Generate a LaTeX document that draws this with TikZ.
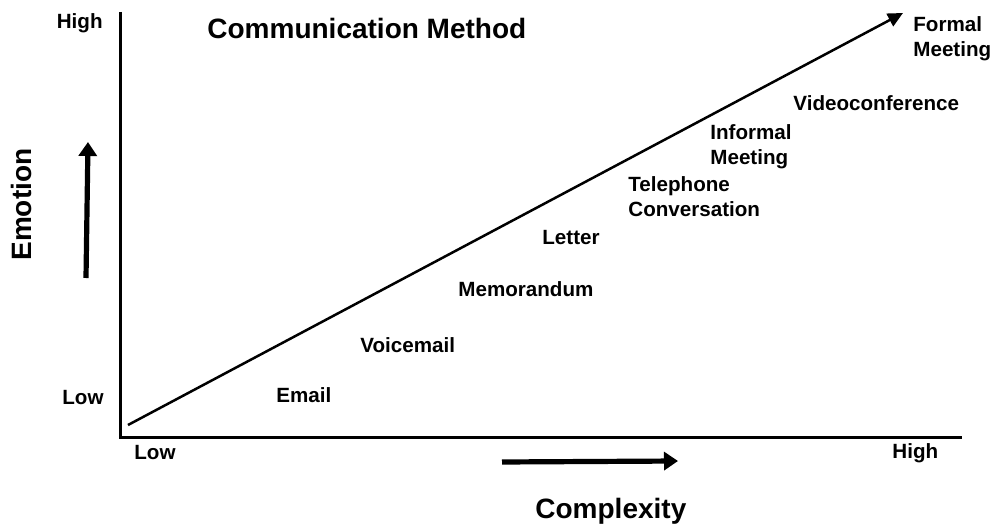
\documentclass[tikz,border=0pt]{standalone}
\usepackage{fontspec}
\setmainfont{Liberation Sans}
\usetikzlibrary{arrows.meta}

\tikzset{
    lbl/.style={font=\fontsize{10.3}{12.5}\selectfont\bfseries, inner sep=0pt, align=left},
    big/.style={font=\fontsize{14}{16}\selectfont\bfseries, inner sep=0pt},
    fat/.style={line width=2.6pt, -{Triangle[length=7pt,width=9pt]}}
}

\begin{document}
\begin{tikzpicture}[x=0.5pt, y=-0.5pt]
    \useasboundingbox (0,0) rectangle (996,524);
    % axes
    \coordinate (ytop) at (120,12);
    \coordinate (origin) at (120,437);
    \coordinate (xend) at (962,437);
    \draw[line width=1.5pt] (ytop) -- (origin) -- (xend);
    % rising line
    \coordinate (start) at (128,425);
    \coordinate (tip) at (903,13);
    \draw[line width=1.25pt, -{Triangle[length=7.5pt,width=7pt]}] (start) -- (tip);
    % direction arrows
    \coordinate (ea) at (86,278);
    \coordinate (eb) at (88,142);
    \draw[fat] (ea) -- (eb);
    \coordinate (ca) at (502,462);
    \coordinate (cb) at (678,461);
    \draw[fat] (ca) -- (cb);
    % axis texts
    \node[big, anchor=base west] (title) at (207,39) {Communication Method};
    \node[big, anchor=base west] (cx) at (535,518) {Complexity};
    \node[big, anchor=base west, rotate=90] (em) at (32,261) {Emotion};
    \node[lbl, anchor=base east] (yhi) at (103,29) {High};
    \node[lbl, anchor=base east] (ylo) at (104,404) {Low};
    \node[lbl, anchor=base west] (xlo) at (134,459) {Low};
    \node[lbl, anchor=base west] (xhi) at (892,458) {High};
    % methods (base of two-line nodes is the last line)
    \node[lbl, anchor=base west] (email) at (276,402) {Email};
    \node[lbl, anchor=base west] (voice) at (360,352) {Voicemail};
    \node[lbl, anchor=base west] (memo) at (458,296) {Memorandum};
    \node[lbl, anchor=base west] (letter) at (542,244) {Letter};
    \node[lbl, anchor=base west] (phone) at (628,216) {Telephone\\Conversation};
    \node[lbl, anchor=base west] (inform) at (710,164) {Informal\\Meeting};
    \node[lbl, anchor=base west] (video) at (793,111) {Videoconference};
    \node[lbl, anchor=base west] (formal) at (913,57) {Formal\\Meeting};
\end{tikzpicture}
\end{document}
